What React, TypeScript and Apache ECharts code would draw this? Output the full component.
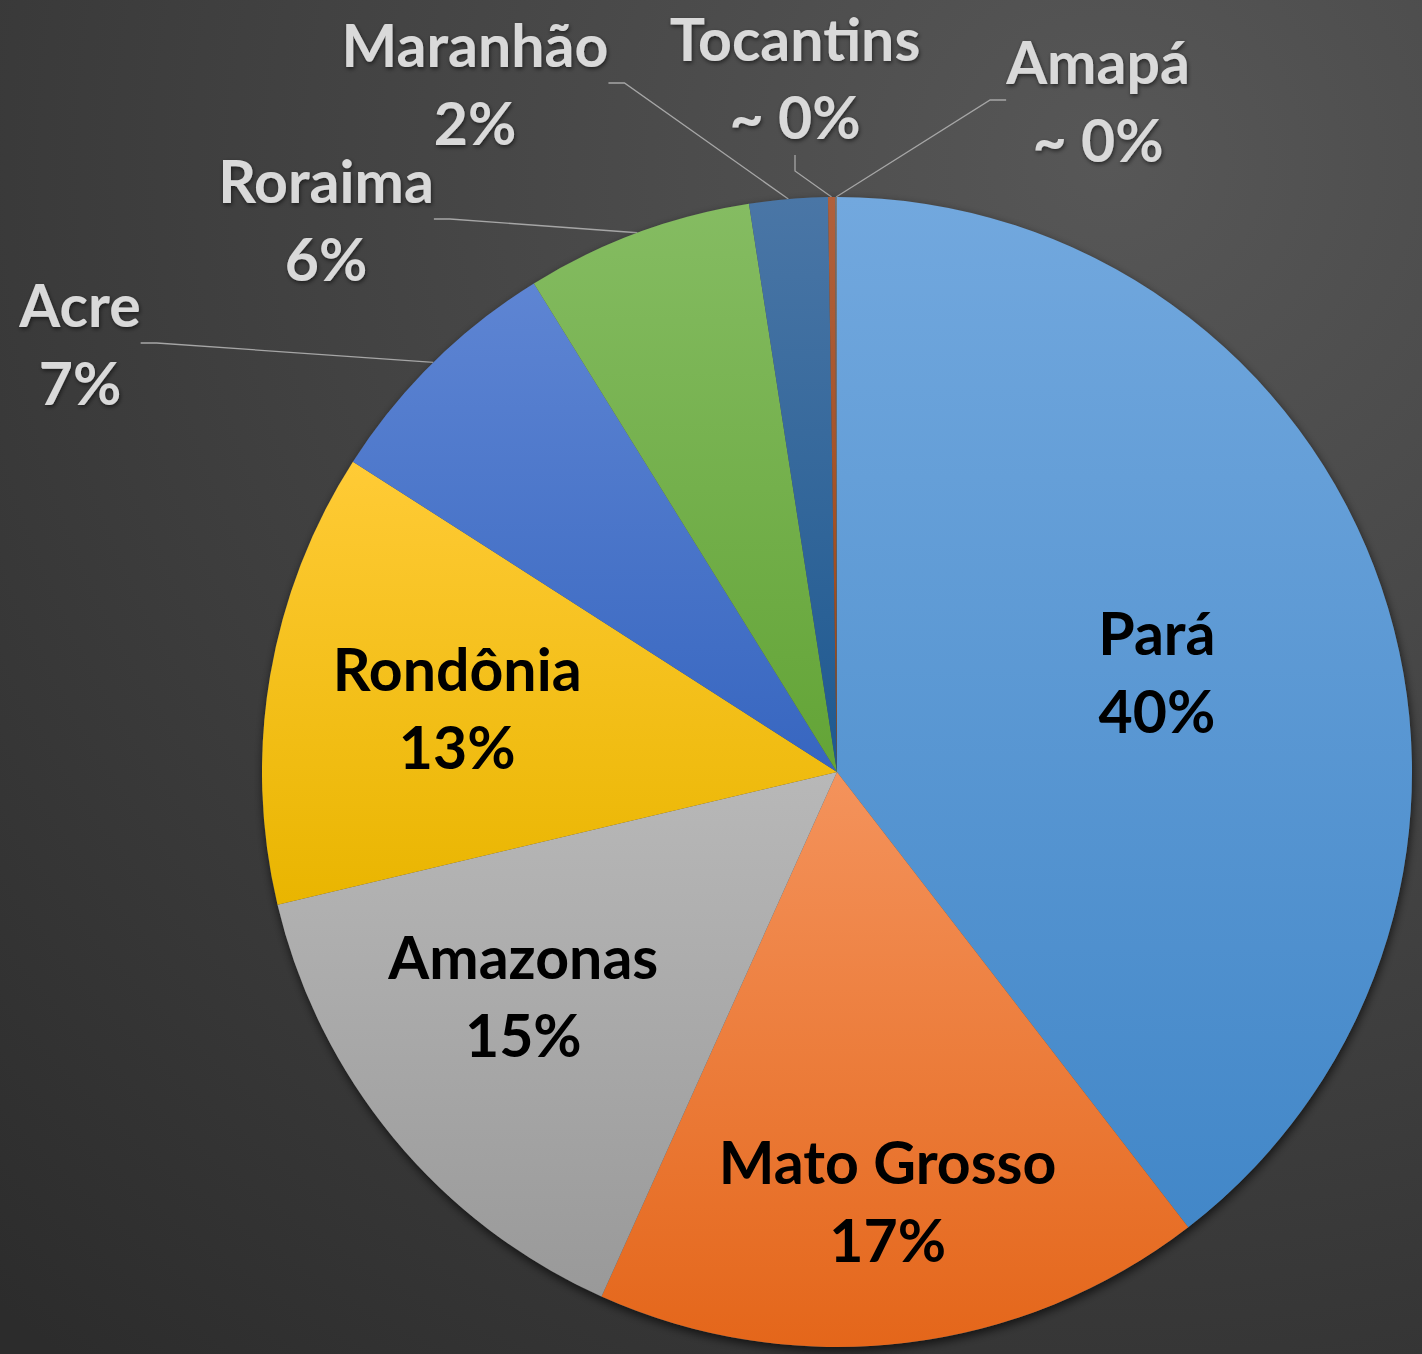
import React, { useEffect, useRef } from "react";
import * as echarts from "echarts";

// ---- data ----
const states = ["Pará", "Mato Grosso", "Amazonas", "Rondônia", "Acre", "Roraima", "Maranhão", "Tocantins", "Amapá"];
const shares = [39.6, 17.2, 14.6, 12.8, 7.1, 6.4, 2.2, 0.2, 0.05];

// ---- styles ----
const sliceColors: [string, string][] = [
  ["#72A8DE", "#4287C8"],
  ["#F4935C", "#E4661A"],
  ["#B8B8B8", "#999999"],
  ["#FFCB36", "#E9B500"],
  ["#5E85D3", "#3766C0"],
  ["#85BC62", "#63A436"],
  ["#4A76A6", "#1E5990"],
  ["#B0603C", "#9A4512"],
  ["#7A7A7A", "#5A5A5A"],
];
const W = 1422;
const H = 1354;
const CX = 837;
const CY = 772;
const R = 575;
// inside labels: [radius fraction, angular shift in degrees]
const insideLabel: Record<number, [number, number]> = {
  0: [0.583, 1.4],
  1: [0.75, 0],
  2: [0.67, 4.1],
  3: [0.67, 0],
};
const outsideCenter: Record<number, [number, number]> = {
  4: [80, 343],
  5: [326, 219],
  6: [475, 83],
  7: [795, 77],
  8: [1098, 100],
};
const FONT = "Lato";
const FS = 59;
const LH = 78;

export default function App() {
  const ref = useRef<HTMLDivElement>(null);
  useEffect(() => {
    document.body.style.margin = "0";
    const chart = echarts.init(ref.current!, null, { renderer: "svg" });
    const total = shares.reduce((a, b) => a + b, 0);
    const data = states.map((name, i) => {
      const inside = insideLabel[i] != null;
      return {
        name,
        value: shares[i],
        itemStyle: {
          color: new echarts.graphic.LinearGradient(0, 0, 0, 1, [
            { offset: 0, color: sliceColors[i][0] },
            { offset: 1, color: sliceColors[i][1] },
          ]),
        },
        label: inside
          ? { position: "inside", color: "#000000", textShadowBlur: 0 }
          : {
              position: "outside",
              color: "#D9D9D9",
              textShadowColor: "rgba(0,0,0,0.55)",
              textShadowBlur: 4,
              textShadowOffsetX: 1,
              textShadowOffsetY: 2,
            },
        labelLine: { show: !inside },
      };
    });
    chart.setOption({
      animation: false,
      backgroundColor: {
        type: "radial",
        x: 0.78,
        y: 0.12,
        r: 1.15,
        colorStops: [
          { offset: 0, color: "#575757" },
          { offset: 1, color: "#2c2c2c" },
        ],
      },
      series: [
        {
          type: "pie",
          silent: true,
          center: [CX, CY],
          radius: [0, R],
          label: { show: false },
          labelLine: { show: false },
          data: [{ value: total, name: "" }],
          itemStyle: {
            color: "#4a4a4a",
            shadowBlur: 10,
            shadowColor: "rgba(0,0,0,0.65)",
            shadowOffsetX: 1,
            shadowOffsetY: 4,
          },
        },
        {
          type: "pie",
          center: [CX, CY],
          radius: [0, R],
          startAngle: 90,
          clockwise: true,
          avoidLabelOverlap: false,
          itemStyle: { borderWidth: 0 },
          label: {
            show: true,
            fontFamily: FONT,
            fontWeight: "bold",
            fontSize: FS,
            lineHeight: LH,
            align: "center",
            formatter: (p: any) => {
              const pct = Math.round(p.percent);
              return p.name + "\n" + (pct === 0 ? "~ 0%" : pct + "%");
            },
          },
          labelLine: {
            show: true,
            length: 10,
            length2: 16,
            smooth: false,
            lineStyle: { color: "#A6A6A6", width: 1.3 },
          },
          labelLayout: (p: any) => {
            const i = p.dataIndex;
            const r = p.labelRect;
            const cfg = insideLabel[i];
            if (cfg) {
              const vx = r.x + r.width / 2 - CX;
              const vy = r.y + r.height / 2 - CY;
              const k = (cfg[0] * R) / (R / 2 + 3);
              const a = (cfg[1] * Math.PI) / 180;
              const rx = vx * Math.cos(a) - vy * Math.sin(a);
              const ry = vx * Math.sin(a) + vy * Math.cos(a);
              return { x: CX + rx * k, y: CY + ry * k, align: "center", verticalAlign: "middle" };
            }
            const pos = outsideCenter[i];
            if (pos) return { x: pos[0], y: pos[1], align: "center", verticalAlign: "middle" };
            return {};
          },
          data,
        },
      ],
    });
    return () => chart.dispose();
  }, []);
  return <div ref={ref} style={{ width: W, height: H }} />;
}
